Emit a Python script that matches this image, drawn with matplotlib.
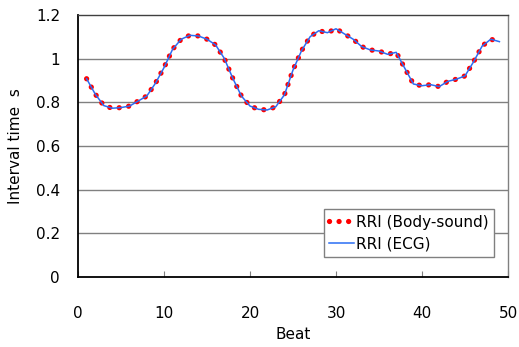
import matplotlib
matplotlib.use('Agg')
import matplotlib.pyplot as plt

plt.rcParams['font.family'] = ['DejaVu Sans']

# beat number
beats = list(range(1, 50))

# RR interval (s)
rri_body = [0.908, 0.838, 0.785, 0.773, 0.776, 0.783, 0.806, 0.829, 0.887, 0.959,
            1.043, 1.089, 1.107, 1.104, 1.089, 1.063, 1.002, 0.910, 0.829, 0.783,
            0.768, 0.765, 0.780, 0.834, 0.948, 1.037, 1.101, 1.128, 1.119, 1.137,
            1.113, 1.089, 1.055, 1.040, 1.035, 1.020, 1.029, 0.956, 0.884, 0.876,
            0.881, 0.872, 0.896, 0.906, 0.921, 0.986, 1.058, 1.089, 1.078]
rri_ecg = list(rri_body)

yticks = [0, 0.2, 0.4, 0.6, 0.8, 1.0, 1.2]
ytick_labels = ['0', '0.2', '0.4', '0.6', '0.8', '1', '1.2']
xticks = [0, 10, 20, 30, 40, 50]

fig = plt.figure(figsize=(5.19, 3.47), dpi=100)
ax = fig.add_axes([78 / 519, 70 / 347, 430 / 519, 262 / 347])

# gridlines
for y in yticks[1:-1]:
    ax.axhline(y, color='#808080', lw=1.0, zorder=1)

ax.plot(beats, rri_body, color='#ff0000', lw=3.8, linestyle=(0, (0.01, 1.8)),
        dash_capstyle='round', label='RRI (Body-sound)', zorder=3)
ax.plot(beats, rri_ecg, color='#2a6df4', lw=1.1, label='RRI (ECG)', zorder=4)

ax.set_xlim(0, 50)
ax.set_ylim(0, 1.2)
ax.set_xticks(xticks)
ax.set_yticks(yticks)
ax.set_yticklabels(ytick_labels)
ax.tick_params(axis='x', direction='in', length=4, color='#808080', pad=21, labelsize=11)
ax.tick_params(axis='y', length=0, pad=13, labelsize=11)

for side in ['left', 'bottom']:
    ax.spines[side].set_color('black')
    ax.spines[side].set_linewidth(1.3)
ax.spines['top'].set_color('#404040')
ax.spines['top'].set_linewidth(1.0)
ax.spines['right'].set_color('#808080')
ax.spines['right'].set_linewidth(1.0)

ax.set_xlabel('Beat', fontsize=11, labelpad=4)
ax.set_ylabel('Interval time  s', fontsize=11, labelpad=9)

leg = ax.legend(loc='lower right', bbox_to_anchor=(0.967, 0.077), borderaxespad=0,
                fancybox=False, framealpha=1, edgecolor='#808080', fontsize=11,
                handlelength=1.6, handletextpad=0.15, borderpad=0.35, labelspacing=0.45)
leg.get_frame().set_linewidth(1.0)

fig.savefig('out.png', dpi=100)
